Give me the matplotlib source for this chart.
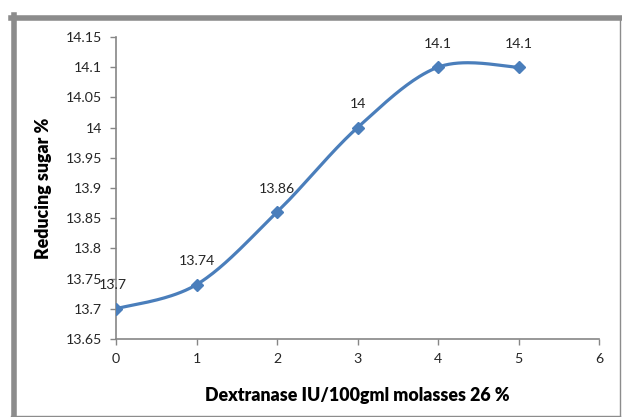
import numpy as np
import matplotlib.pyplot as plt
from matplotlib.lines import Line2D

plt.rcParams['font.family'] = ['Lato', 'DejaVu Sans']

dose = [0, 1, 2, 3, 4, 5]
sugar = [13.7, 13.74, 13.86, 14.0, 14.1, 14.1]
point_labels = ['13.7', '13.74', '13.86', '14', '14.1', '14.1']
xticks = [0, 1, 2, 3, 4, 5, 6]
yticks = [13.65, 13.7, 13.75, 13.8, 13.85, 13.9, 13.95, 14.0, 14.05, 14.1, 14.15]
ytick_text = ['13.65', '13.7', '13.75', '13.8', '13.85', '13.9', '13.95', '14', '14.05', '14.1', '14.15']

blue = '#4A7EBB'
grey = '#868686'


def smooth(x, y, sx, sy, n=40):
    # bezier smoothing done in screen units so it bends like a spreadsheet curve
    px = np.asarray(x, float) * sx
    py = np.asarray(y, float) * sy
    P = np.column_stack([px, py])
    out = []
    for i in range(len(P) - 1):
        p0 = P[i - 1] if i > 0 else P[i]
        p1 = P[i]
        p2 = P[i + 1]
        p3 = P[i + 2] if i + 2 < len(P) else P[i + 1]
        c1 = p1 + (p2 - p0) / 6.0
        c2 = p2 - (p3 - p1) / 6.0
        t = np.linspace(0, 1, n)[:, None]
        seg = ((1 - t) ** 3) * p1 + 3 * ((1 - t) ** 2) * t * c1 + 3 * (1 - t) * t ** 2 * c2 + t ** 3 * p2
        out.append(seg)
    seg = np.vstack(out)
    return seg[:, 0] / sx, seg[:, 1] / sy


fig = plt.figure(figsize=(6.22, 4.17), dpi=100)
ax = fig.add_axes([116 / 622, 1 - 339 / 417, 483 / 622, 302 / 417])

xs, ys = smooth(dose, sugar, 483 / 6.0, 302 / 0.5)
ax.plot(xs, ys, color=blue, lw=2.3, solid_capstyle='round', zorder=3)
ax.plot(dose, sugar, ls='none', marker='D', ms=6.5, color=blue, zorder=4)

for xv, yv, t in zip(dose, sugar, point_labels):
    ax.annotate(t, (xv, yv), xytext=(-2 if xv == 0 else 0, 17), textcoords='offset points',
                ha='center', va='center', fontsize=10.2, color='#262626')

ax.set_xlim(0, 6)
ax.set_ylim(13.65, 14.15)
ax.set_xticks(xticks)
ax.set_yticks(yticks)
ax.set_yticklabels(ytick_text)
for s in ['top', 'right']:
    ax.spines[s].set_visible(False)
for s in ['left', 'bottom']:
    ax.spines[s].set_color(grey)
    ax.spines[s].set_linewidth(1.2)
ax.tick_params(axis='both', color=grey, length=4, width=1, labelsize=10.2, labelcolor='#262626')
ax.tick_params(axis='x', pad=6)
ax.tick_params(axis='y', pad=6)

ax.set_xlabel('Dextranase IU/100gml molasses 26 %', fontsize=12.8, fontweight='heavy', labelpad=16)
ax.set_ylabel('Reducing sugar %', fontsize=12.8, fontweight='heavy', labelpad=10)

# outer frame, heavy on top and left
H = 417
fig.add_artist(Line2D([11, 620], [H - 17.5, H - 17.5], transform=None, color='#8C8C8C', lw=4))
fig.add_artist(Line2D([13.5, 13.5], [0, H - 15], transform=None, color='#8C8C8C', lw=4))
fig.add_artist(Line2D([619.5, 619.5], [0, H - 18], transform=None, color='#8C8C8C', lw=1))
fig.add_artist(Line2D([11, 620], [1, 1], transform=None, color='#8C8C8C', lw=1))

fig.savefig('out.png', dpi=100)
